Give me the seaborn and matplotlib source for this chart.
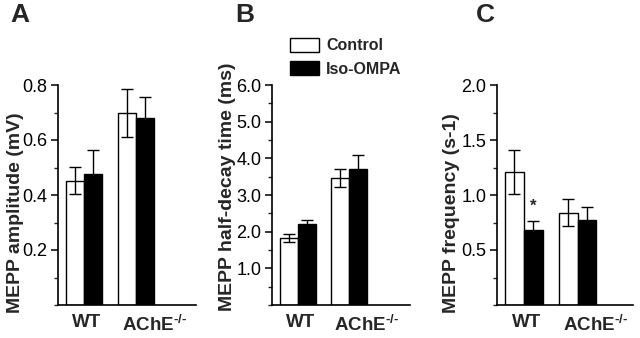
import matplotlib
matplotlib.use("Agg")
import matplotlib.pyplot as plt
import matplotlib.transforms as mtransforms
from matplotlib.ticker import MultipleLocator, FormatStrFormatter
import numpy as np
import pandas as pd
import seaborn as sns

sns.set_style("ticks")
plt.rcParams["font.family"] = ["Liberation Sans", "DejaVu Sans"]
plt.rcParams["mathtext.fontset"] = "custom"
plt.rcParams["mathtext.rm"] = "Liberation Sans:bold"
plt.rcParams["mathtext.bf"] = "Liberation Sans:bold"

genotypes = ["WT", "AChE"]
genotype_labels = ["WT", r"AChE$^{\text{-/-}}$"]
treatments = ["Control", "Iso-OMPA"]

# A: MEPP amplitude (mV)
amp_ctrl = [0.452, 0.697]
amp_iso = [0.477, 0.680]
amp_ctrl_err = [0.050, 0.087]
amp_iso_err = [0.085, 0.075]

# B: MEPP half-decay time (ms)
decay_ctrl = [1.83, 3.46]
decay_iso = [2.22, 3.70]
decay_ctrl_err = [0.11, 0.25]
decay_iso_err = [0.11, 0.38]

# C: MEPP frequency (s-1)
freq_ctrl = [1.21, 0.84]
freq_iso = [0.68, 0.77]
freq_ctrl_err = [0.20, 0.125]
freq_iso_err = [0.08, 0.12]

W, H = 640, 338
fig = plt.figure(figsize=(6.4, 3.38), dpi=100)


def px_axes(left, right, top, bottom):
    return fig.add_axes([left / W, (H - bottom) / H, (right - left) / W, (bottom - top) / H])


def draw_panel(ax, ctrl, iso, ctrl_err, iso_err, ylim, major, minor, fmt, xlim, ylabel, legend=False):
    df = pd.DataFrame({
        "genotype": genotypes * 2,
        "treatment": [treatments[0]] * 2 + [treatments[1]] * 2,
        "value": ctrl + iso,
    })
    sns.barplot(data=df, x="genotype", y="value", hue="treatment",
                order=genotypes, hue_order=treatments,
                palette={"Control": "white", "Iso-OMPA": "black"},
                edgecolor="black", linewidth=1.0, width=0.7,
                errorbar=None, legend=legend, ax=ax)
    for cont, errs in zip(ax.containers, [ctrl_err, iso_err]):
        for bar, e in zip(cont, errs):
            ax.errorbar(bar.get_x() + bar.get_width() / 2, bar.get_height(), yerr=e,
                        fmt="none", ecolor="black", elinewidth=1.0, capsize=4,
                        capthick=1.0, zorder=5)
    ax.set_ylim(*ylim)
    ax.set_xlim(*xlim)
    ax.yaxis.set_minor_locator(MultipleLocator(minor))
    ax.yaxis.set_major_formatter(FormatStrFormatter(fmt))
    ax.set_yticks(np.arange(major, ylim[1] + major / 2, major))
    ax.tick_params(axis="y", which="major", direction="out", length=5, width=1.1,
                   pad=2.5, labelsize=13, colors="black")
    ax.tick_params(axis="y", which="minor", direction="out", length=3, width=1.0)
    ax.tick_params(axis="x", length=0, pad=6.5)
    ax.set_xticks(range(len(genotypes)))
    ax.set_xticklabels(genotype_labels, fontsize=13.5, fontweight="bold")
    for lab, dx in zip(ax.get_xticklabels(), [3, 18]):
        lab.set_transform(lab.get_transform() + mtransforms.ScaledTranslation(dx / 100, 0, fig.dpi_scale_trans))
    ax.set_xlabel("")
    ax.set_ylabel(ylabel, fontsize=14, fontweight="bold", ha="left", va="center")
    for s in ["top", "right"]:
        ax.spines[s].set_visible(False)
    for s in ["left", "bottom"]:
        ax.spines[s].set_linewidth(1.2)
        ax.spines[s].set_color("black")


ax_a = px_axes(58, 196, 85, 305)
draw_panel(ax_a, amp_ctrl, amp_iso, amp_ctrl_err, amp_iso_err,
           (0, 0.8), 0.2, 0.1, "%.1f", (-0.5, 2.15), "MEPP amplitude (mV)")
ax_a.yaxis.set_label_coords((16 - 58) / 138, (305 - 313) / 220)

ax_b = px_axes(272, 410, 85, 305)
draw_panel(ax_b, decay_ctrl, decay_iso, decay_ctrl_err, decay_iso_err,
           (0, 6.0), 1.0, 0.5, "%.1f", (-0.51, 2.2), "MEPP half-decay time (ms)", legend=True)
ax_b.yaxis.set_label_coords((227 - 272) / 138, (305 - 311) / 220)
sns.move_legend(ax_b, "upper left", bbox_to_anchor=(290 / W, 1 - 38 / H),
                bbox_transform=fig.transFigure, frameon=False, title=None,
                prop={"weight": "bold", "size": 11.5},
                handlelength=1.8, handleheight=0.95, handletextpad=0.45,
                labelspacing=0.5, borderpad=0, borderaxespad=0)

ax_c = px_axes(497, 633, 85, 305)
draw_panel(ax_c, freq_ctrl, freq_iso, freq_ctrl_err, freq_iso_err,
           (0, 2.0), 0.5, 0.25, "%.1f", (-0.5, 2.03), "MEPP frequency (s-1)")
ax_c.yaxis.set_label_coords((451 - 497) / 136, (305 - 313) / 220)
star_bar = ax_c.containers[1][0]
ax_c.text(star_bar.get_x() + star_bar.get_width() / 2, 0.90, "*",
          ha="center", va="center", fontsize=12, fontweight="bold")

for letter, xc in zip(["A", "B", "C"], [20, 245, 485]):
    fig.text(xc / W, 1 - 15 / H, letter, ha="center", va="center",
             fontsize=19, fontweight="bold")

fig.savefig("out.png", dpi=100)
